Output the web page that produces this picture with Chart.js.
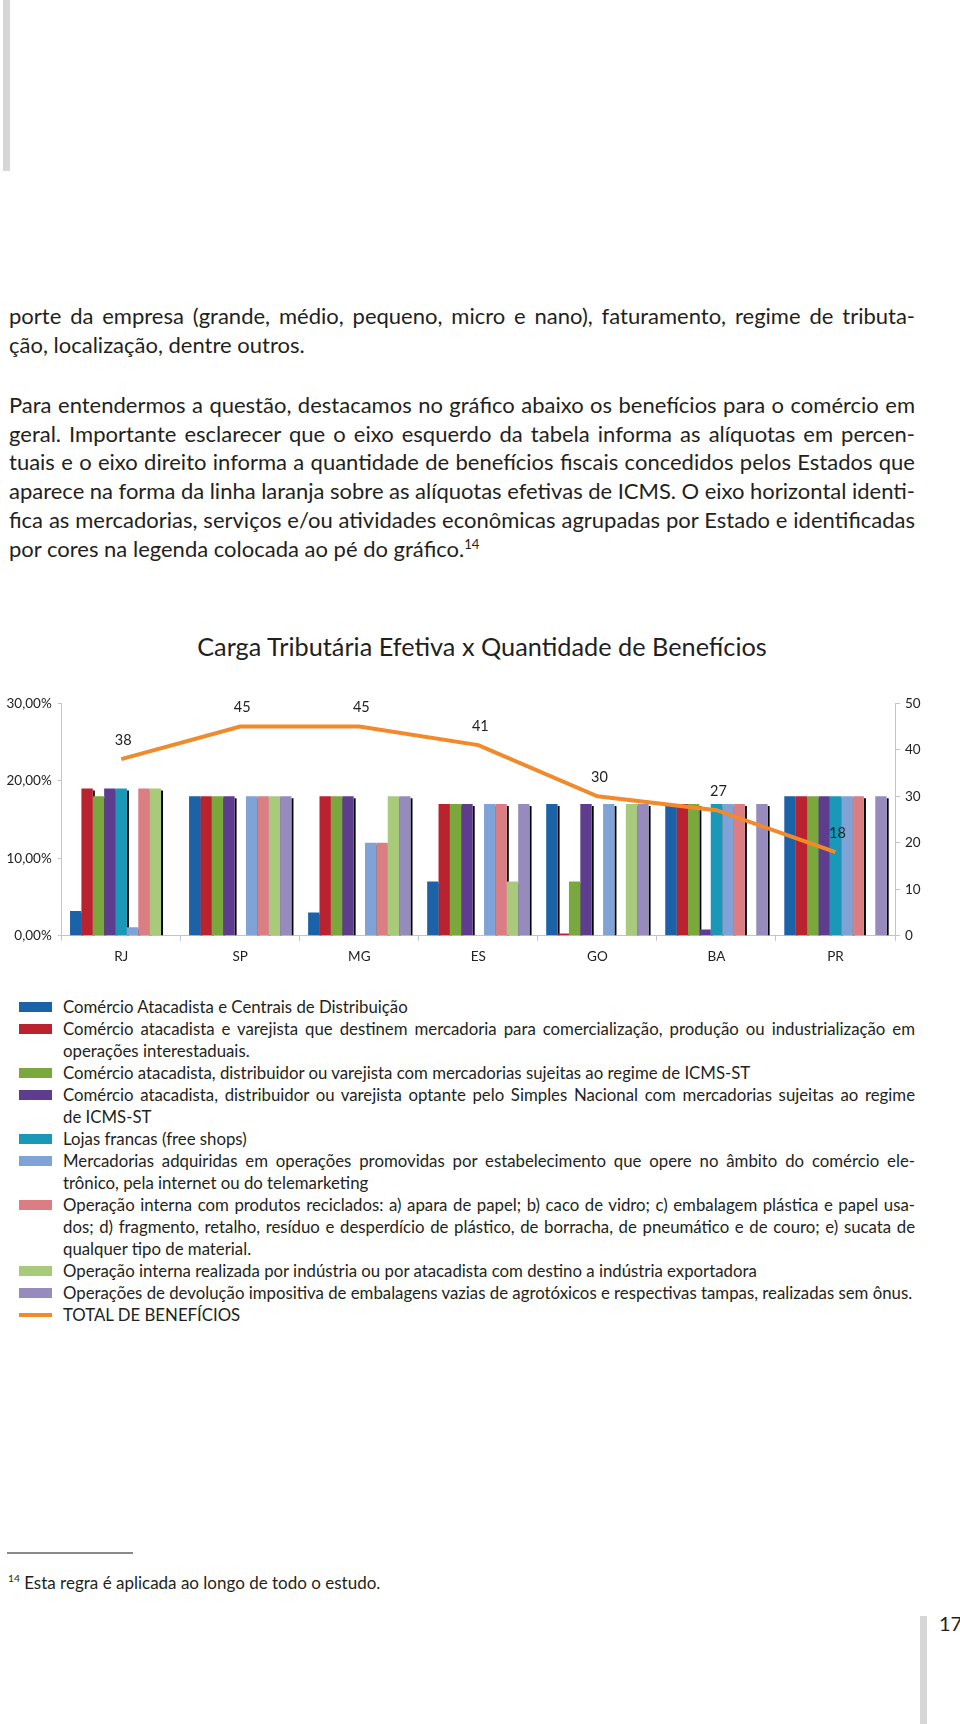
<!DOCTYPE html>
<html lang="pt-BR">
<head>
<meta charset="utf-8">
<title>Carga Tributária Efetiva x Quantidade de Benefícios</title>
<script src="https://cdn.jsdelivr.net/npm/chart.js@4.4.1/dist/chart.umd.min.js"></script>
<style>
  html, body { margin: 0; padding: 0; background: #fff; }
  body { width: 960px; height: 1724px; position: relative; overflow: hidden;
         font-family: Lato, "Open Sans", sans-serif; color: #231f20; }
  .barra-topo { position: absolute; left: 3px; top: 0; width: 7px; height: 171px; background: #d6d6d6; }
  .barra-pe { position: absolute; left: 920px; top: 1616px; width: 7px; height: 108px; background: #d6d6d6; }
  .texto { position: absolute; left: 9px; width: 906px; font-size: 22px; line-height: 28.7px; }
  .linha { white-space: nowrap; }
  sup { font-size: 60%; line-height: 0; }
  #titulo { position: absolute; left: 0; width: 964px; top: 630px; text-align: center; font-size: 25.3px; line-height: 32px; }
  #grafico-box { position: absolute; left: 0; top: 680px; width: 960px; height: 300px; }
  #legenda { position: absolute; left: 0; top: 996px; width: 960px; font-size: 16.8px; line-height: 22px; }
  .item { position: relative; padding-left: 63px; width: 852px; }
  .amostra { position: absolute; left: 19px; top: 6px; width: 33px; height: 10px; }
  .amostra.traco { top: 9px; height: 4px; }
  #regra { position: absolute; left: 7px; top: 1552px; width: 126px; height: 2px; background: #8a8a8a; }
  #nota { position: absolute; left: 8px; top: 1572px; font-size: 17px; line-height: 22px; }
  #pagina { position: absolute; left: 939px; top: 1609px; font-size: 20px; line-height: 28px; }
</style>
</head>
<body>
<div class="barra-topo"></div>

<div class="texto" style="top:302px">
  <div class="linha"><span>porte da empresa (grande, médio, pequeno, micro e nano), faturamento, regime de tributa-</span></div>
  <div class="linha fim"><span>ção, localização, dentre outros.</span></div>
</div>
<div class="texto" style="top:391px">
  <div class="linha"><span>Para entendermos a questão, destacamos no gráfico abaixo os benefícios para o comércio em</span></div>
  <div class="linha"><span>geral. Importante esclarecer que o eixo esquerdo da tabela informa as alíquotas em percen-</span></div>
  <div class="linha"><span>tuais e o eixo direito informa a quantidade de benefícios fiscais concedidos pelos Estados que</span></div>
  <div class="linha"><span>aparece na forma da linha laranja sobre as alíquotas efetivas de ICMS. O eixo horizontal identi-</span></div>
  <div class="linha"><span>fica as mercadorias, serviços e/ou atividades econômicas agrupadas por Estado e identificadas</span></div>
  <div class="linha fim"><span>por cores na legenda colocada ao pé do gráfico.<sup>14</sup></span></div>
</div>

<div id="titulo">Carga Tributária Efetiva x Quantidade de Benefícios</div>

<div id="grafico-box"><canvas id="grafico"></canvas></div>

<div id="legenda"></div>

<div id="regra"></div>
<div id="nota"><sup>14</sup> Esta regra é aplicada ao longo de todo o estudo.</div>
<div id="pagina">17</div>
<div class="barra-pe"></div>

<script>
// Estados no eixo horizontal
const estados = ['RJ', 'SP', 'MG', 'ES', 'GO', 'BA', 'PR'];

// Alíquotas efetivas (%) por atividade, na ordem dos estados (null = sem barra)
const atacadistaCentrais  = [3.2, 18, 3.0, 7, 17, 17, 18];
const destinoInterestadual = [19, 18, 18, 17, 0.3, 17, 18];
const regimeIcmsSt        = [18, 18, 18, 17, 7, 17, 18];
const simplesIcmsSt       = [19, 18, 18, 17, 17, 0.8, 18];
const lojasFrancas        = [19, null, null, null, null, 17, 18];
const comercioEletronico  = [1.1, 18, 12, 17, 17, 17, 18];
const reciclados          = [19, 18, 12, 17, null, 17, 18];
const industriaExport     = [19, 18, 18, 7, 17, null, null];
const devolucaoEmbalagens = [null, 18, 18, 17, 17, 17, 18];

// Quantidade de benefícios (eixo direito)
const totalBeneficios = [38, 45, 45, 41, 30, 27, 18];

// Rótulos dos eixos
const rotulosAliquota = ['0,00%', '10,00%', '20,00%', '30,00%'];
const rotulosBeneficios = ['0', '10', '20', '30', '40', '50'];

// Legenda (cada item já quebrado como no original)
const legendaLinhas = [
  ['Comércio Atacadista e Centrais de Distribuição'],
  ['Comércio atacadista e varejista que destinem mercadoria para comercialização, produção ou industrialização em',
   'operações interestaduais.'],
  ['Comércio atacadista, distribuidor ou varejista com mercadorias sujeitas ao regime de ICMS-ST'],
  ['Comércio atacadista, distribuidor ou varejista optante pelo Simples Nacional com mercadorias sujeitas ao regime',
   'de ICMS-ST'],
  ['Lojas francas (free shops)'],
  ['Mercadorias adquiridas em operações promovidas por estabelecimento que opere no âmbito do comércio ele-',
   'trônico, pela internet ou do telemarketing'],
  ['Operação interna com produtos reciclados: a) apara de papel; b) caco de vidro; c) embalagem plástica e papel usa-',
   'dos; d) fragmento, retalho, resíduo e desperdício de plástico, de borracha, de pneumático e de couro; e) sucata de',
   'qualquer tipo de material.'],
  ['Operação interna realizada por indústria ou por atacadista com destino a indústria exportadora'],
  ['Operações de devolução impositiva de embalagens vazias de agrotóxicos e respectivas tampas, realizadas sem ônus.'],
  ['TOTAL DE BENEFÍCIOS']
];

const cores = ['#1c62a8', '#bb2230', '#7aa83c', '#5e3c8e', '#1a98b8', '#7fa3d6', '#db7e83', '#a9ca7b', '#978bbd'];
const corLinha = '#f08a2b';

const series = [atacadistaCentrais, destinoInterestadual, regimeIcmsSt, simplesIcmsSt, lojasFrancas,
                comercioEletronico, reciclados, industriaExport, devolucaoEmbalagens];

function nomeSerie(linhas) {
  let s = '';
  linhas.forEach(l => {
    if (s.endsWith('-')) s = s.slice(0, -1) + l;
    else s = s ? s + ' ' + l : l;
  });
  return s;
}

const fonte = 'Lato, "Open Sans", sans-serif';

const datasets = series.map((dados, i) => ({
  type: 'bar',
  label: nomeSerie(legendaLinhas[i]),
  data: dados,
  backgroundColor: cores[i],
  borderWidth: 0,
  yAxisID: 'y',
  categoryPercentage: 0.86,
  barPercentage: 1
}));

datasets.push({
  type: 'line',
  label: nomeSerie(legendaLinhas[9]),
  data: totalBeneficios,
  borderColor: corLinha,
  borderWidth: 4,
  pointRadius: 0,
  tension: 0,
  yAxisID: 'y2',
  order: -1
});

// sombra preta à direita de cada barra (efeito do gráfico original)
const sombra = {
  id: 'sombra',
  beforeDatasetsDraw(chart) {
    const ctx = chart.ctx;
    ctx.save();
    ctx.fillStyle = '#000';
    chart.data.datasets.forEach((ds, i) => {
      if (ds.type !== 'bar') return;
      chart.getDatasetMeta(i).data.forEach(bar => {
        const p = bar.getProps(['x', 'y', 'base', 'width'], true);
        if (isNaN(p.y) || p.base - p.y < 3) return;
        ctx.fillRect(p.x + p.width / 2, p.y + 2, 2, p.base - p.y - 2);
      });
    });
    ctx.restore();
  }
};

// números sobre a linha laranja
const rotulosLinha = {
  id: 'rotulosLinha',
  afterDatasetsDraw(chart) {
    const idx = chart.data.datasets.findIndex(d => d.type === 'line');
    const ctx = chart.ctx;
    ctx.save();
    ctx.font = '14.5px ' + fonte;
    ctx.fillStyle = '#222';
    ctx.textAlign = 'center';
    ctx.textBaseline = 'middle';
    chart.getDatasetMeta(idx).data.forEach((pt, i) => {
      ctx.fillText(totalBeneficios[i], pt.x + 2, pt.y - 19);
    });
    ctx.restore();
  }
};

const corEixo = '#c4c4c4';

new Chart(document.getElementById('grafico'), {
  data: { labels: estados, datasets: datasets },
  plugins: [sombra, rotulosLinha],
  options: {
    responsive: true,
    maintainAspectRatio: false,
    animation: false,
    layout: { padding: { top: 23.3, left: 0, right: 0, bottom: 0 } },
    plugins: {
      legend: { display: false },
      tooltip: { enabled: false }
    },
    scales: {
      x: {
        grid: { drawOnChartArea: false, tickLength: 5, color: corEixo, offset: true },
        border: { color: corEixo },
        ticks: { color: '#222', font: { family: fonte, size: 13.5 }, padding: 8 },
        afterFit(s) { s.height = 44.3; }
      },
      y: {
        position: 'left',
        min: 0, max: 30,
        grid: { drawOnChartArea: false, tickLength: 4, color: corEixo },
        border: { color: corEixo },
        ticks: {
          stepSize: 10, padding: 6, color: '#222', font: { family: fonte, size: 13.5 },
          callback: (v, i) => rotulosAliquota[i]
        },
        afterFit(s) { s.width = 61.7; }
      },
      y2: {
        position: 'right',
        min: 0, max: 50,
        grid: { drawOnChartArea: false, tickLength: 5, color: corEixo },
        border: { color: corEixo },
        ticks: {
          stepSize: 10, padding: 5, color: '#222', font: { family: fonte, size: 13.5 },
          callback: (v, i) => rotulosBeneficios[i]
        },
        afterFit(s) { s.width = 65; }
      }
    }
  }
});

// Legenda em HTML, com os mesmos nomes e cores das séries
const legenda = document.getElementById('legenda');
legendaLinhas.forEach((linhas, i) => {
  const item = document.createElement('div');
  item.className = 'item';
  const amostra = document.createElement('span');
  amostra.className = i < cores.length ? 'amostra' : 'amostra traco';
  amostra.style.background = i < cores.length ? cores[i] : corLinha;
  item.appendChild(amostra);
  linhas.forEach((txt, j) => {
    const l = document.createElement('div');
    l.className = (j < linhas.length - 1) ? 'linha' : 'linha fim';
    const s = document.createElement('span');
    s.textContent = txt;
    l.appendChild(s);
    item.appendChild(l);
  });
  legenda.appendChild(item);
});

// Justificação manual: ajusta o espaço entre palavras para cada linha ocupar a largura toda
function justificar() {
  document.querySelectorAll('.linha:not(.fim)').forEach(l => {
    const s = l.firstElementChild;
    s.style.wordSpacing = '0px';
    const espacos = (s.textContent.match(/ /g) || []).length;
    if (!espacos) return;
    const sobra = l.clientWidth - s.getBoundingClientRect().width;
    s.style.wordSpacing = (sobra / espacos) + 'px';
  });
}
justificar();
if (document.fonts) document.fonts.ready.then(justificar);
</script>
</body>
</html>
